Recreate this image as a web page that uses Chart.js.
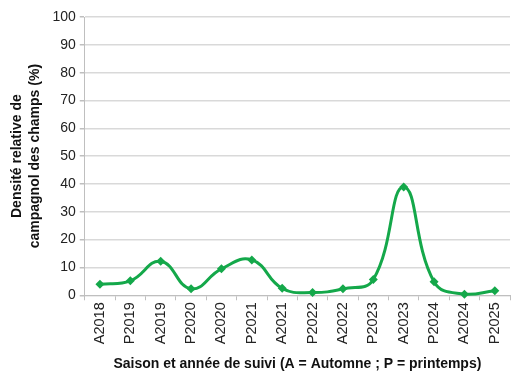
<!DOCTYPE html>
<html>
<head>
<meta charset="utf-8">
<script src="https://cdn.jsdelivr.net/npm/chart.js@4/dist/chart.umd.min.js"></script>
<style>
  html, body { margin: 0; padding: 0; background: #fff; }
  .wrap { width: 520px; height: 372px; }
</style>
</head>
<body>
<div class="wrap"><canvas class="chart" width="520" height="372"></canvas></div>
<script>
var saisons = ["A2018", "P2019", "A2019", "P2020", "A2020", "P2021", "A2021",
  "P2022", "A2022", "P2023", "A2023", "P2024", "A2024", "P2025"];
var densite = [4.0, 5.2, 12.2, 2.3, 9.5, 12.7, 2.5, 1.0, 2.3, 5.7, 38.9, 4.9, 0.4, 1.6];
var yTicks = [0, 10, 20, 30, 40, 50, 60, 70, 80, 90, 100];

window.onload = function(){
  var vert = "#14a84a";
  var police = "Liberation Sans, Arial";
  var datos = {
    type: "line",
    data: {
      labels: saisons,
      datasets: [{
        data: densite,
        borderColor: vert,
        backgroundColor: vert,
        borderWidth: 3,
        tension: 0.45,
        pointStyle: "rectRot",
        pointRadius: 4.5,
        pointBorderWidth: 0,
        clip: false
      }]
    },
    options: {
      responsive: false,
      animation: false,
      layout: { padding: { top: 17, right: 10, left: 8, bottom: -1 } },
      plugins: {
        legend: { display: false },
        tooltip: { enabled: false }
      },
      scales: {
        x: {
          offset: true,
          grid: {
            offset: true,
            drawOnChartArea: false,
            color: "#bfbfbf",
            tickLength: 5
          },
          border: { color: "#bfbfbf" },
          ticks: {
            color: "#222",
            font: { family: police, size: 14.5 },
            maxRotation: 90,
            minRotation: 90,
            padding: 2
          },
          title: {
            display: true,
            text: "Saison et année de suivi (A = Automne ; P = printemps)",
            color: "#111",
            font: { family: police, size: 14, weight: "bold" },
            padding: { top: 10, bottom: 0 }
          }
        },
        y: {
          min: 0,
          max: 100,
          afterBuildTicks: function(axis){
            axis.ticks = yTicks.map(function(v){ return { value: v }; });
          },
          grid: {
            color: "#d9d9d9",
            lineWidth: 1.5,
            tickLength: 5,
            tickColor: "#bfbfbf"
          },
          border: { color: "#bfbfbf" },
          ticks: {
            color: "#222",
            font: { family: police, size: 14 },
            padding: 4
          },
          title: {
            display: true,
            text: ["Densité relative de", "campagnol des champs (%)"],
            color: "#111",
            font: { family: police, size: 14, weight: "bold", lineHeight: 1.3 },
            padding: { top: 0, bottom: 4 }
          }
        }
      }
    }
  };

  var ctx = document.querySelector('.chart').getContext('2d');
  window.ligne = new Chart(ctx, datos);
};
</script>
</body>
</html>
